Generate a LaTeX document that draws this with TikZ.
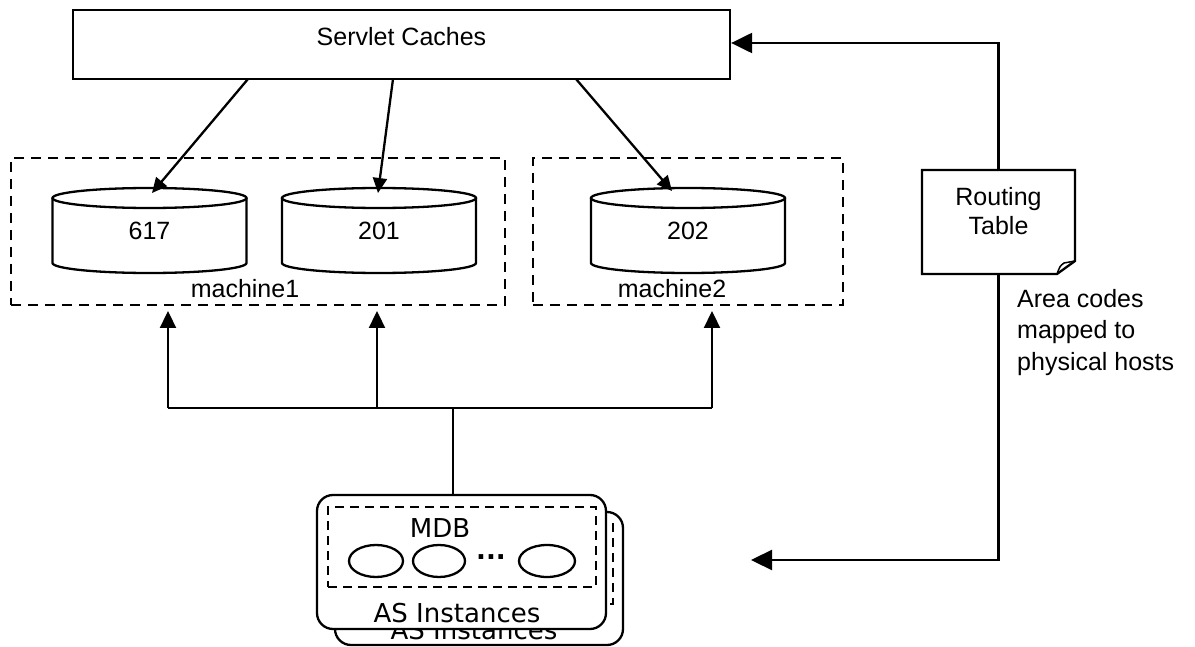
\documentclass[tikz,border=0pt]{standalone}
\usepackage{fontspec}
\setmainfont{Liberation Sans}
\newfontfamily\dvsans{DejaVu Sans}
\usetikzlibrary{arrows.meta,shapes.geometric}

\tikzset{
  solidline/.style={line width=2.3pt, line join=miter},
  dashbox/.style={draw, line width=2.3pt, dash pattern=on 10pt off 7pt, inner sep=0pt},
  mdbbox/.style={draw, line width=2.3pt, dash pattern=on 9pt off 6pt},
  lbl/.style={font=\fontsize{25pt}{30pt}\selectfont, inner sep=0pt},
  dvlbl/.style={font=\dvsans\fontsize{26pt}{30pt}\selectfont, inner sep=0pt},
  toCyl/.style={solidline, -{Triangle[length=15pt,width=14pt]}},
  toMach/.style={solidline, -{Triangle[length=17pt,width=16pt]}},
  toRoute/.style={solidline, -{Triangle[length=21pt,width=20pt]}},
  inst/.style={ellipse, draw, line width=2.3pt, minimum width=54pt, minimum height=32pt, inner sep=0pt},
}

% database disk: name, centre x, label
\newcommand\dbdisk[3]{%
  \draw[solidline] ({#2-97},198) -- ({#2-97},263)
     arc[start angle=180, end angle=0, x radius=97, y radius=10] -- ({#2+97},198);
  \draw[solidline] (#2,198) ellipse[x radius=97, y radius=10];
  \node[lbl] (#1) at (#2,231) {#3};
}

\begin{document}
\begin{tikzpicture}[x=1pt, y=-1pt]
\useasboundingbox (0,0) rectangle (1195,647);

% servlet caches
\node[draw, line width=2.3pt, minimum width=657pt, minimum height=69pt, inner sep=0pt] (servlet) at (401.5,44.5) {};
\node[lbl] (servlettext) at (401.5,37) {Servlet Caches};

% machines
\node[dashbox, minimum width=494pt, minimum height=147pt] (machine1) at (258,231.5) {};
\node[dashbox, minimum width=310pt, minimum height=147pt] (machine2) at (688,231.5) {};
\node[lbl, anchor=base] (m1label) at (245,298) {machine1};
\node[lbl, anchor=base] (m2label) at (672,298) {machine2};

\dbdisk{d617}{149.5}{617}
\dbdisk{d201}{379}{201}
\dbdisk{d202}{688}{202}

% cache to disk arrows
\coordinate (s1) at (248,79);
\coordinate (s2) at (393,79);
\coordinate (s3) at (576,79);
\coordinate (t1) at (152,193);
\coordinate (t2) at (378,193);
\coordinate (t3) at (672,191);
\draw[toCyl] (s1) -- (t1);
\draw[toCyl] (s2) -- (t2);
\draw[toCyl] (s3) -- (t3);

% AS instances (back copy)
\draw[solidline, rounded corners=16pt] (335,512) rectangle (623,645);
\draw[mdbbox] (345,524) rectangle (613,604);
\node[dvlbl] (asback) at (474,630) {AS Instances};

% AS instances (front)
\node[draw, line width=2.3pt, rounded corners=16pt, fill=white, minimum width=289pt, minimum height=134pt, inner sep=0pt] (asfront) at (461.5,562) {};
\node[mdbbox, minimum width=268pt, minimum height=80pt, inner sep=0pt] (mdb) at (462,547) {};
\node[dvlbl] (mdbtext) at (440,528) {MDB};
\node[inst] (e1) at (376,561) {};
\node[inst, minimum width=52pt] (e2) at (439,561) {};
\node[inst, minimum width=56pt] (e3) at (547,561) {};
\node[dvlbl, font=\dvsans\bfseries\fontsize{26pt}{30pt}\selectfont] (dots) at (491,557) {...};
\node[dvlbl] (asfronttext) at (457,613) {AS Instances};

% bus from AS instances up to the machines
\coordinate (asin) at (453,495);
\coordinate (bus) at (453,408);
\coordinate (bl) at (168,408);
\coordinate (bm) at (377,408);
\coordinate (br) at (712,408);
\coordinate (u1) at (168,311);
\coordinate (u2) at (377,311);
\coordinate (u3) at (712,311);
\draw[solidline] (asin) -- (bus);
\draw[solidline] (bl) -- (br);
\draw[toMach] (bl) -- (u1);
\draw[toMach] (bm) -- (u2);
\draw[toMach] (br) -- (u3);

% routing table note
\node[minimum width=153pt, minimum height=104pt, inner sep=0pt] (rtable) at (998.5,222) {};
\coordinate (rtop) at (998.5,43);
\coordinate (rcorner) at (998.5,560);
\coordinate (astip) at (751,560);
\draw[toRoute] (rtable.north) -- (rtop) -- (servlet.east |- rtop);
\draw[toRoute] (rtable.south) -- (rcorner) -- (astip);
\draw[solidline, fill=white] (922,170) -- (1075,170) -- (1075,261) -- (1057,274) -- (922,274) -- cycle;
\draw[line width=1.5pt] (1057,274) .. controls (1060,266) .. (1064,263) -- (1075,261);
\node[lbl, align=center, font=\fontsize{25pt}{29pt}\selectfont] (rtext) at (998.5,211) {Routing\\Table};
\node[lbl, align=left, anchor=north west, font=\fontsize{25pt}{31.5pt}\selectfont] (rnote) at (1017,289) {Area codes\\mapped to\\physical hosts};

\end{tikzpicture}
\end{document}
